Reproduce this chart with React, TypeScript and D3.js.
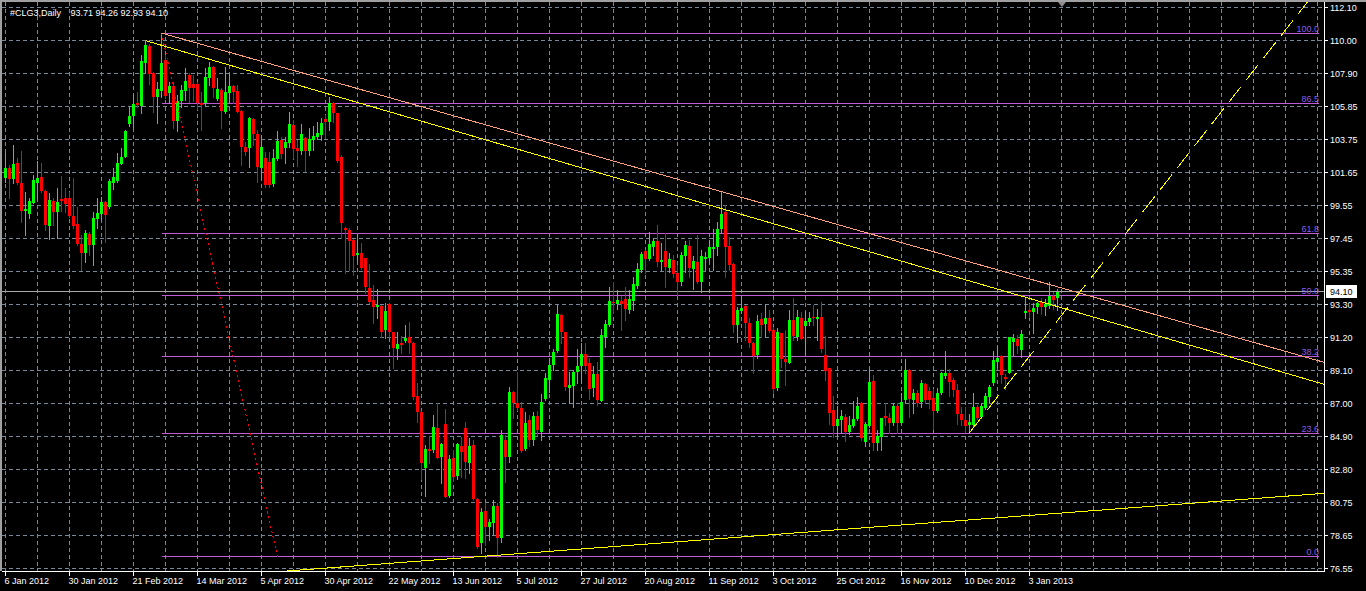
import React from 'react';
import * as d3 from 'd3';

const W = 1366;
const H = 591;

const symbolLabel = '#CLG3,Daily';
const ohlcLabel = '93.71 94.26 92.93 94.10';
const lastPrice = 94.1;

const openP = [
101.32,101.91,101.23,102.27,100.96,99.23,99.02,99.74,100.96,101.36,
100.47,98.28,99.84,99.16,99.97,100.01,100.05,98.89,98.38,97.11,
96.57,97.75,97.05,98.70,99.02,99.76,99.44,100.96,101.11,102.18,
102.65,104.70,105.23,106.05,105.86,108.61,109.66,107.97,106.41,106.81,
108.78,106.66,107.13,104.91,106.18,106.81,107.83,107.26,107.26,106.07,
106.03,107.66,108.35,106.28,106.87,105.50,106.71,107.13,106.83,105.54,
103.28,103.22,105.04,104.09,101.95,102.54,102.33,100.91,102.50,103.70,
103.22,103.53,104.65,103.22,103.00,103.85,103.03,103.70,103.87,104.02,
105.03,104.82,106.03,105.39,102.65,98.10,98.00,97.36,96.41,96.52,
96.20,94.34,93.56,93.14,93.18,91.66,93.29,91.51,90.46,90.86,
90.96,91.19,90.86,87.50,86.48,82.94,84.12,84.06,85.47,83.63,
85.70,81.14,83.57,82.43,84.31,85.43,83.25,84.37,80.93,78.18,
80.19,79.20,79.41,80.51,78.46,84.69,83.63,87.75,87.06,86.70,
84.10,85.96,84.70,86.21,85.20,87.30,88.50,89.45,90.34,92.60,
91.52,88.01,88.12,89.01,89.39,90.15,89.60,87.97,88.88,87.19,
91.25,91.99,93.46,93.32,93.51,93.61,92.94,93.51,94.46,95.47,
96.70,96.17,96.91,97.31,96.00,96.67,95.62,96.10,95.26,94.73,
96.38,96.99,95.53,96.00,94.69,96.19,96.25,96.80,96.91,98.05,
99.17,96.99,95.85,91.99,92.89,93.19,92.09,90.87,90.08,92.36,
92.05,92.45,91.67,87.97,91.46,89.83,89.60,92.30,91.25,92.41,
91.92,92.20,92.51,92.37,92.51,90.08,89.24,86.60,85.58,85.96,
86.18,85.22,85.58,86.03,87.06,84.55,85.58,88.44,84.53,84.91,
86.24,86.11,85.80,86.85,85.80,87.23,89.13,87.23,87.70,87.13,
88.27,87.82,87.34,86.56,87.65,88.75,88.92,88.50,87.87,86.32,
85.96,85.65,85.65,86.81,86.18,86.75,87.44,88.29,89.66,90.02,
88.67,88.96,90.93,91.10,90.40,92.72,92.93,92.83,93.15,93.42,
93.10,93.21,93.84,93.71];

const highP = [
102.86,102.12,103.39,102.54,103.01,100.43,100.01,101.49,102.40,102.23,
100.55,100.33,100.01,100.64,101.42,100.64,100.43,101.28,99.44,97.69,
98.00,97.90,99.16,100.05,100.11,99.84,101.23,101.95,102.90,103.18,
104.34,105.78,106.56,106.73,109.09,110.04,109.77,108.04,107.40,110.48,
109.09,107.40,107.40,106.56,107.19,108.25,107.93,107.83,107.40,106.77,
108.25,108.67,108.40,107.61,106.98,108.35,107.93,107.19,107.19,105.61,
103.60,105.19,105.12,104.34,104.02,102.96,102.96,103.11,104.27,103.91,
103.91,105.48,104.97,103.70,104.72,103.91,104.44,104.59,104.86,105.07,
105.29,106.41,106.10,105.43,102.75,98.21,98.10,97.40,97.68,97.15,
96.24,95.84,94.51,94.24,93.24,93.35,93.35,91.55,91.51,91.30,
91.98,92.15,90.92,88.28,86.55,84.37,84.96,86.27,87.01,84.52,
86.63,83.74,84.06,84.48,84.90,85.85,84.80,84.69,81.00,80.36,
80.72,79.66,80.89,80.72,85.32,85.01,88.07,87.80,89.02,87.12,
86.48,86.27,86.45,86.50,87.59,88.92,89.87,90.44,93.25,92.65,
91.56,89.03,89.13,90.44,90.87,90.82,89.87,89.39,89.62,91.71,
92.30,94.37,94.73,94.20,93.82,94.37,94.20,95.01,95.93,96.63,
96.74,97.86,97.52,98.32,97.16,97.79,96.53,96.42,95.79,96.63,
97.31,97.37,96.36,97.69,96.74,96.63,97.37,98.05,98.53,100.43,
99.59,97.58,95.89,93.15,93.82,93.25,92.41,90.93,92.62,92.72,
93.30,92.94,91.88,91.77,91.50,91.67,92.94,93.72,92.93,92.83,
92.83,92.83,93.25,93.00,93.46,91.29,89.28,87.49,86.85,86.60,
86.34,86.24,87.17,87.44,87.13,85.86,89.24,88.82,85.33,86.11,
87.02,86.39,87.06,87.06,87.65,89.83,89.17,87.93,87.87,88.50,
88.33,88.08,87.91,87.97,89.03,90.34,89.17,88.65,88.25,86.81,
86.77,86.34,87.65,86.92,87.02,87.65,88.18,90.34,90.57,90.08,
88.86,91.25,91.39,91.35,91.67,93.78,93.32,93.36,93.46,93.72,
93.63,94.69,94.10,94.26];

const lowP = [
101.07,100.05,100.96,100.90,98.49,97.69,98.78,99.69,100.01,100.43,
98.00,97.43,98.32,97.47,99.23,99.16,98.85,98.11,97.05,95.47,
96.00,96.42,95.78,98.11,98.70,97.26,99.42,100.60,101.07,102.16,
102.61,104.61,104.55,105.82,105.44,108.04,107.23,105.50,104.80,106.45,
106.35,106.03,104.45,104.28,105.82,106.24,106.14,106.18,105.67,104.34,
105.92,107.19,106.45,106.24,104.45,105.40,106.14,106.03,105.46,102.12,
102.75,102.02,103.39,101.07,101.23,100.74,100.70,100.79,102.43,102.54,
102.26,103.28,102.54,102.07,102.79,101.74,102.75,103.07,103.81,103.70,
103.81,104.34,104.86,102.33,97.47,95.29,95.46,95.15,96.05,95.51,
94.03,93.35,92.13,92.40,91.24,91.13,91.24,89.27,89.80,90.18,
90.90,90.18,87.27,85.85,82.20,81.14,83.25,83.95,83.53,81.99,
81.06,81.06,82.11,82.22,82.32,82.30,82.58,80.89,77.82,77.51,
78.04,78.35,78.67,77.28,78.25,82.05,83.32,86.06,86.59,83.95,
84.06,84.30,84.40,85.00,84.69,87.23,87.76,89.13,90.29,90.82,
87.86,87.02,86.81,88.29,88.39,88.96,87.27,87.49,86.92,87.15,
90.61,91.92,92.72,92.98,91.67,92.30,92.72,92.94,94.31,95.36,
95.26,96.10,96.42,95.72,95.47,94.41,95.36,95.05,93.89,94.52,
95.36,95.01,94.25,94.67,94.05,95.47,96.10,95.47,96.42,97.90,
95.01,95.47,91.56,90.93,92.72,91.03,90.61,88.92,89.87,91.25,
91.25,91.56,87.70,87.86,89.34,88.18,89.56,91.03,91.03,91.08,
90.15,91.98,91.98,91.03,90.30,88.50,85.71,84.91,85.01,85.12,
84.63,85.06,85.54,85.96,84.70,84.32,85.54,84.06,84.06,84.06,
85.65,85.12,85.65,85.12,85.75,87.13,86.18,86.39,86.85,86.77,
87.06,86.70,85.37,86.49,87.59,88.60,87.49,87.49,85.69,85.65,
85.22,85.16,85.58,86.01,86.07,86.64,87.13,88.18,89.34,88.29,
87.93,88.92,90.08,90.23,89.94,92.45,92.47,91.50,92.77,92.68,
92.62,93.04,92.98,92.93];

const closeP = [
101.91,101.23,102.16,100.96,99.23,99.33,99.84,101.17,101.32,100.47,
98.32,99.90,99.16,99.80,99.86,99.63,98.89,98.26,97.09,96.55,
97.81,97.05,98.78,99.10,99.80,98.95,101.13,101.34,102.25,102.65,
104.28,105.23,105.99,105.92,108.71,109.73,107.87,106.41,106.94,108.59,
106.49,107.13,104.91,106.18,106.87,107.45,106.98,106.98,106.03,105.92,
107.72,108.35,106.98,106.94,105.56,106.77,107.13,106.73,105.50,103.28,
102.92,105.08,104.07,102.02,103.28,100.85,100.85,102.54,103.64,102.79,
103.55,104.72,103.13,103.00,104.06,103.00,103.76,103.95,104.17,104.80,
104.86,106.03,105.39,102.37,98.46,98.00,97.32,96.37,96.56,95.57,
94.41,93.41,93.14,93.24,91.55,92.87,91.55,90.54,90.75,90.71,
91.17,90.86,87.44,86.48,83.25,84.12,83.99,85.53,83.57,84.44,
81.10,83.49,82.37,84.41,83.95,83.32,84.31,80.95,77.89,80.15,
79.15,79.51,80.51,78.46,85.01,83.63,87.75,87.01,86.70,84.01,
85.79,84.70,86.21,85.32,87.10,88.60,89.45,90.25,92.66,91.56,
88.08,88.18,89.03,89.39,90.15,89.39,87.93,88.88,87.23,91.35,
92.05,93.51,93.36,93.57,93.32,93.00,93.63,94.58,95.51,96.48,
96.17,97.12,97.31,96.00,96.10,95.68,96.15,95.20,94.73,96.42,
97.05,95.62,96.04,94.73,96.36,96.32,96.91,96.95,98.05,99.02,
96.91,95.77,91.99,92.94,93.08,92.09,90.82,90.04,92.24,91.99,
92.45,91.63,87.93,91.56,89.81,89.66,92.30,91.29,92.51,91.10,
92.26,92.45,92.41,92.49,90.46,89.09,86.43,85.58,86.03,86.24,
85.22,85.65,86.03,86.85,84.80,85.71,88.35,84.49,84.97,86.09,
86.07,85.80,86.85,85.75,87.13,89.13,87.27,87.65,87.06,88.33,
87.23,87.23,86.56,87.65,88.96,88.92,88.39,87.87,86.34,85.96,
85.58,85.86,86.81,86.07,86.85,87.51,88.03,89.77,89.91,88.82,
88.54,91.20,91.18,90.65,91.41,92.87,92.79,93.08,93.36,93.15,
93.29,93.84,93.57,94.10];

const priceTicks = [112.10, 110.00, 107.90, 105.85, 103.75, 101.65, 99.55, 97.45, 95.35, 93.30, 91.20, 89.10, 87.00, 84.90, 82.80, 80.75, 78.65, 76.55];
const dateTickIdx = [0, 16, 32, 48, 64, 80, 96, 112, 128, 144, 160, 176, 192, 208, 224, 240, 256];
const dateTickLabels = ['6 Jan 2012', '30 Jan 2012', '21 Feb 2012', '14 Mar 2012', '5 Apr 2012', '30 Apr 2012', '22 May 2012', '13 Jun 2012', '5 Jul 2012', '27 Jul 2012', '20 Aug 2012', '11 Sep 2012', '3 Oct 2012', '25 Oct 2012', '16 Nov 2012', '10 Dec 2012', '3 Jan 2013'];

// Fibonacci retracement anchors (bar index, price)
const fibIdx = [39, 68];
const fibPrice = [110.48, 77.28];
const fibLevels = [0, 23.6, 38.2, 50.0, 61.8, 86.5, 100.0];

// Trend lines: two anchors each (bar index, price)
const salmonIdx = [39, 179];
const salmonPrice = [110.48, 100.43];
const yellowTopIdx = [35, 81];
const yellowTopPrice = [110.0, 106.6];
const yellowBottomIdx = [123, 300];
const yellowBottomPrice = [77.39, 80.75];
const yellowDashIdx = [241, 268];
const yellowDashPrice = [85.16, 93.88];

const FONT = '"Liberation Sans", Arial, sans-serif';

export default function App() {
  const n = openP.length;
  const plotRight = 1324;
  const plotBottom = 571;
  const x = d3.scaleLinear().domain([0, 1]).range([4, 8]);
  const y = d3.scaleLinear().domain([76.55, 112.1]).range([568.5, 7.5]);
  const cx = (i: number) => x(i) + 1.5;
  const snap = (v: number) => Math.round(v - 0.5) + 0.5;

  const lineThrough = (idx: number[], pr: number[], from: number, to: number) => {
    const slope = (pr[1] - pr[0]) / (idx[1] - idx[0]);
    const p = (i: number) => pr[0] + slope * (i - idx[0]);
    return { x1: cx(from), y1: y(p(from)), x2: cx(to), y2: y(p(to)) };
  };

  const gridXs = d3.range(0, 42).map((k) => cx(k * 8));
  const fibHigh = fibPrice[0];
  const fibLow = fibPrice[1];
  const fibX1 = cx(fibIdx[0]);
  const fibX2 = 1319;

  const salmon = lineThrough(salmonIdx, salmonPrice, salmonIdx[0], 340);
  const yTop = lineThrough(yellowTopIdx, yellowTopPrice, yellowTopIdx[0], 340);
  const yBot = lineThrough(yellowBottomIdx, yellowBottomPrice, -20, 340);
  const yDash = lineThrough(yellowDashIdx, yellowDashPrice, yellowDashIdx[0], 340);
  const fibDiag = lineThrough(fibIdx, fibPrice, fibIdx[0], fibIdx[1]);

  const lastY = snap(y(lastPrice));

  return (
    <svg width={W} height={H} style={{ display: 'block', position: 'absolute', left: 0, top: 0, background: '#000' }} fontFamily={FONT}>
      <style>{'body{margin:0;background:#000;}'}</style>
      <defs>
        <clipPath id="plot">
          <rect x={0} y={0} width={plotRight} height={plotBottom} />
        </clipPath>
      </defs>
      <rect x={0} y={0} width={W} height={H} fill="#000" />

      {/* grid */}
      <g stroke="#778899" strokeWidth={1} strokeDasharray="4,3" shapeRendering="crispEdges">
        {priceTicks.map((t) => (
          <line key={'h' + t} x1={2} x2={plotRight} y1={snap(y(t))} y2={snap(y(t))} />
        ))}
        {gridXs.map((gx, k) => (
          <line key={'v' + k} x1={snap(gx)} x2={snap(gx)} y1={2} y2={plotBottom} />
        ))}
      </g>

      <g clipPath="url(#plot)">
        {/* current price line */}
        <line x1={0} x2={plotRight} y1={lastY} y2={lastY} stroke="#a8a8a8" strokeWidth={1} shapeRendering="crispEdges" />

        {/* fibonacci levels */}
        {fibLevels.map((lv) => {
          const py = snap(y(fibLow + ((fibHigh - fibLow) * lv) / 100));
          return (
            <g key={'f' + lv}>
              <line x1={fibX1} x2={fibX2} y1={py} y2={py} stroke="#c05cd6" strokeWidth={1} shapeRendering="crispEdges" />
              <text x={fibX2} y={py - 2} textAnchor="end" fontSize={9} fill="#8a5ce6">{lv.toFixed(1)}</text>
            </g>
          );
        })}

        {/* candles */}
        {d3.range(n).map((i) => {
          const up = closeP[i] >= openP[i];
          const col = up ? '#00ff00' : '#ff0000';
          const top = Math.round(y(Math.max(openP[i], closeP[i])));
          const bot = Math.round(y(Math.min(openP[i], closeP[i])));
          return (
            <g key={'c' + i} shapeRendering="crispEdges">
              <line x1={cx(i)} x2={cx(i)} y1={Math.round(y(highP[i]))} y2={Math.round(y(lowP[i])) + 1} stroke={col} strokeWidth={1} />
              <rect x={x(i)} y={top} width={3} height={Math.max(1, bot - top)} fill={col} />
            </g>
          );
        })}

        {/* fib diagonal */}
        <line {...fibDiag} stroke="#ff0000" strokeWidth={1} strokeDasharray="2,3" shapeRendering="crispEdges" />

        {/* trend lines */}
        <line {...salmon} stroke="#ffa07a" strokeWidth={1} shapeRendering="crispEdges" />
        <line {...yTop} stroke="#ffff00" strokeWidth={1} shapeRendering="crispEdges" />
        <line {...yBot} stroke="#ffff00" strokeWidth={1} shapeRendering="crispEdges" />
        <line {...yDash} stroke="#ffff00" strokeWidth={1} strokeDasharray="20,8" shapeRendering="crispEdges" />
      </g>

      {/* frame */}
      <rect x={0} y={0} width={W} height={2} fill="#a0a0a0" />
      <rect x={0} y={0} width={2} height={plotBottom} fill="#a0a0a0" />
      <polygon points="1058,2 1066,2 1062,7" fill="#8c8c8c" />

      {/* axes */}
      <g stroke="#ffffff" strokeWidth={1} shapeRendering="crispEdges">
        <line x1={plotRight + 0.5} x2={plotRight + 0.5} y1={2} y2={plotBottom + 0.5} />
        <line x1={2} x2={plotRight + 0.5} y1={plotBottom + 0.5} y2={plotBottom + 0.5} />
        {priceTicks.map((t) => (
          <line key={'rt' + t} x1={plotRight} x2={plotRight + 4} y1={snap(y(t))} y2={snap(y(t))} />
        ))}
        {dateTickIdx.map((di) => (
          <line key={'bt' + di} x1={snap(cx(di))} x2={snap(cx(di))} y1={plotBottom} y2={plotBottom + 5} />
        ))}
      </g>
      <g fontSize={9} fill="#ffffff">
        {priceTicks.map((t) => (
          <text key={'rl' + t} x={1330} y={y(t) + 3.5}>{t.toFixed(2)}</text>
        ))}
        {dateTickIdx.map((di, k) => (
          <text key={'bl' + di} x={cx(di) - 1} y={584}>{dateTickLabels[k]}</text>
        ))}
      </g>

      {/* last price box */}
      <rect x={1326.5} y={lastY - 6.5} width={30} height={12} fill="#ffffff" stroke="#ffffff" shapeRendering="crispEdges" />
      <text x={1330} y={lastY + 3.5} fontSize={9} fill="#000000">{lastPrice.toFixed(2)}</text>

      {/* header */}
      <text x={10} y={16} fontSize={9} fill="#ffffff">{symbolLabel}</text>
      <text x={70.5} y={16} fontSize={9} fill="#ffffff">{ohlcLabel}</text>
    </svg>
  );
}
